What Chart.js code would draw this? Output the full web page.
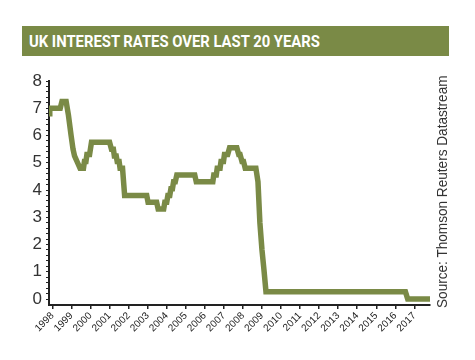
<!DOCTYPE html>
<html lang="en">
<head>
<meta charset="UTF-8">
<title>UK interest rates over last 20 years</title>
<script src="https://cdn.jsdelivr.net/npm/chart.js"></script>
<style>
  html, body { margin: 0; padding: 0; background: #fff; }
  #wrap { position: relative; width: 475px; height: 360px; overflow: hidden; }
  #chart { position: absolute; left: 0; top: 0; }
  #banner {
    position: absolute; left: 22px; top: 26px; width: 427px; height: 30px;
    background: #7a8a46;
  }
  #title {
    position: absolute; left: 29px; top: 33px; white-space: nowrap;
    font: bold 17px Roboto, "Liberation Sans", sans-serif; color: #fff;
    transform-origin: 0 0; line-height: 17px;
  }
  #source {
    position: absolute; white-space: nowrap;
    font: 15px "Liberation Sans", Arial, sans-serif; color: #333;
    transform-origin: 0 0; line-height: 15px;
  }
</style>
</head>
<body>
<div id="wrap">
  <canvas id="chart" width="475" height="360"></canvas>
  <div id="banner"></div>
  <div id="title">UK INTEREST RATES OVER LAST 20 YEARS</div>
  <div id="source">Source: Thomson Reuters Datastream</div>
</div>
<script>
// values (decimal year, rate %)
const years = [
  1997.82, 1997.86, 1998.41, 1998.5, 1998.72, 1998.84, 1998.98, 1999.08, 1999.16, 1999.32,
  1999.45, 1999.63, 1999.68, 1999.76, 1999.81, 1999.95, 2000.05,
  2001.0, 2001.1, 2001.2, 2001.25, 2001.35, 2001.4, 2001.5, 2001.55, 2001.68, 2001.79,
  2002.95, 2003.02, 2003.47, 2003.55, 2003.84, 2003.9, 2004.0, 2004.06, 2004.16, 2004.22,
  2004.3, 2004.36, 2004.45, 2004.53, 2005.47, 2005.55, 2006.42,
  2006.47, 2006.6, 2006.65, 2006.8, 2006.85, 2006.98, 2007.03, 2007.2, 2007.3, 2007.68,
  2007.78, 2007.85, 2007.95, 2008.03, 2008.12, 2008.68,
  2008.79, 2008.89, 2009.0, 2009.1, 2009.21, 2016.53, 2016.65, 2017.82
];
const rates = [
  6.8, 7.0, 7.0, 7.25, 7.25, 6.75, 6.0, 5.5, 5.25, 5.0,
  4.8, 4.8, 5.05, 5.05, 5.3, 5.3, 5.75,
  5.75, 5.5, 5.5, 5.25, 5.25, 5.05, 5.05, 4.8, 4.8, 3.8,
  3.8, 3.55, 3.55, 3.3, 3.3, 3.55, 3.55, 3.8, 3.8, 4.05,
  4.05, 4.3, 4.3, 4.55, 4.55, 4.3, 4.3,
  4.55, 4.55, 4.8, 4.8, 5.05, 5.05, 5.3, 5.3, 5.55, 5.55,
  5.3, 5.3, 5.05, 5.05, 4.8, 4.8,
  4.3, 2.8, 1.8, 1.1, 0.27, 0.27, 0, 0
];
const yearTicks = [1998, 1999, 2000, 2001, 2002, 2003, 2004, 2005, 2006, 2007,
  2008, 2009, 2010, 2011, 2012, 2013, 2014, 2015, 2016, 2017];
const rateTicks = [0, 1, 2, 3, 4, 5, 6, 7, 8];

const green = '#7a8a46';

// minor ticks every 0.2 along the y axis
const yMinor = [];
for (let v = 0; v <= 8.001; v += 0.2) yMinor.push(Math.round(v * 10) / 10);

new Chart(document.getElementById('chart'), {
  type: 'line',
  data: {
    datasets: [{
      data: years.map((x, i) => ({ x: x, y: rates[i] })),
      borderColor: green,
      borderWidth: 5.5,
      pointRadius: 0,
      tension: 0,
      fill: false
    }]
  },
  options: {
    responsive: false,
    animation: false,
    layout: { padding: { left: 0, top: 81, right: 45, bottom: 0 } },
    plugins: { legend: { display: false }, tooltip: { enabled: false } },
    scales: {
      x: {
        type: 'linear',
        min: 1997.82,
        max: 2017.82,
        afterBuildTicks: s => { s.ticks = yearTicks.map(v => ({ value: v })); },
        afterFit: s => { s.height = 55; },
        ticks: {
          autoSkip: false, maxRotation: 45, minRotation: 45, padding: 1,
          color: '#222', font: { size: 10, family: '"Liberation Sans", Arial, sans-serif' },
          callback: v => String(v)
        },
        grid: { drawOnChartArea: false, tickLength: 4, color: '#222', lineWidth: 1.5 },
        border: { color: '#222', width: 2 }
      },
      y: {
        min: -0.22,
        max: 8,
        afterBuildTicks: s => { s.ticks = yMinor.map(v => ({ value: v })); },
        afterFit: s => { s.width = 49; },
        ticks: {
          autoSkip: false, padding: 4, color: '#333',
          font: { size: 17, family: '"Liberation Sans", Arial, sans-serif' },
          callback: v => rateTicks.includes(v) ? String(v) : ''
        },
        grid: { drawOnChartArea: false, tickLength: 3, color: '#222', lineWidth: 1 },
        border: { color: '#222', width: 2 }
      }
    }
  }
});

// fit title and rotated source line to the reference widths
const title = document.getElementById('title');
title.style.transform = 'scaleX(' + (291 / title.offsetWidth) + ')';
const src = document.getElementById('source');
const k = 233 / src.offsetWidth;
src.style.left = '434px';
src.style.top = '308px';
src.style.transform = 'rotate(-90deg) scaleX(' + k + ')';
</script>
</body>
</html>
